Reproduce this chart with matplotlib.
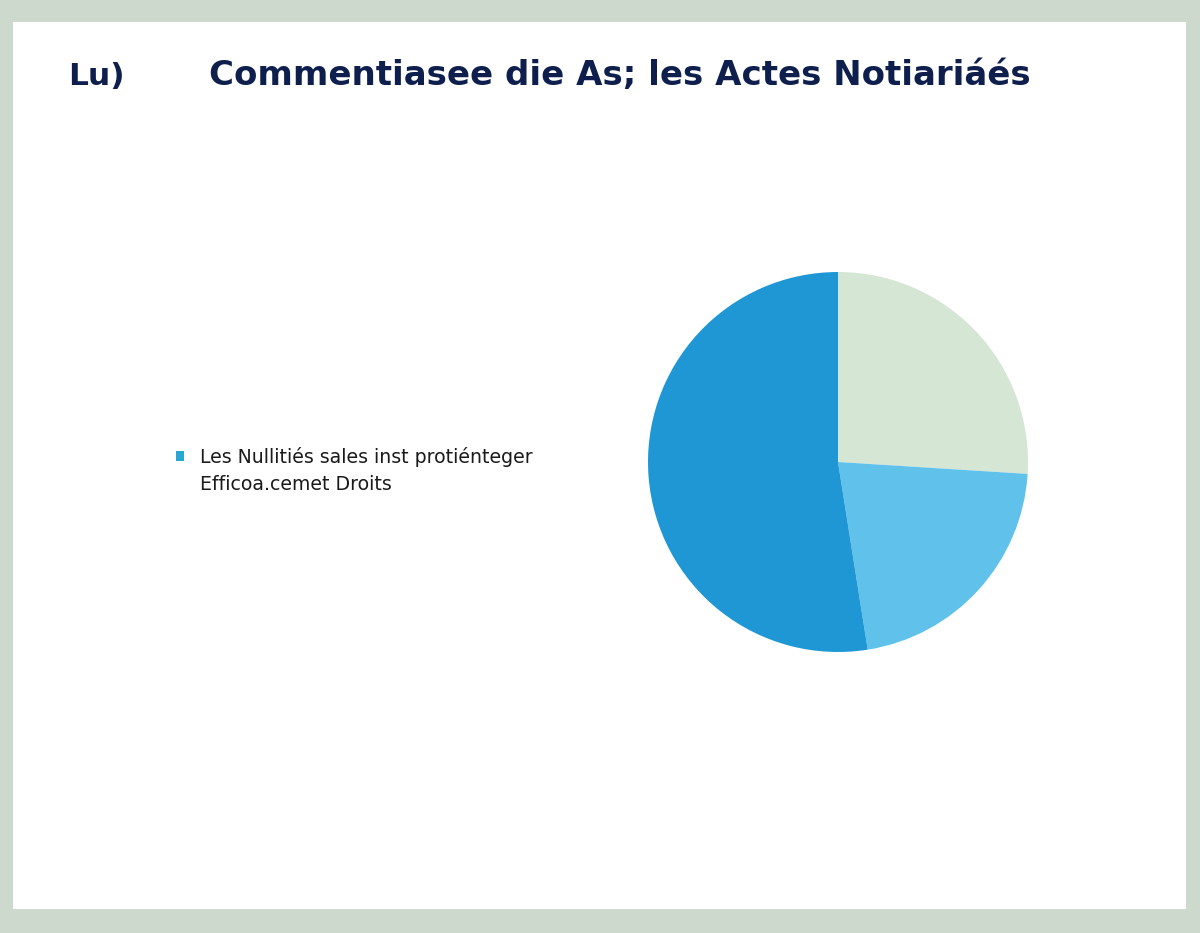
import matplotlib.pyplot as plt
from matplotlib.patches import Rectangle, Patch

# Data
title_prefix = "Lu)"
title_text = "Commentiasee die As; les Actes Notiariáés"
legend_lines = ["Les Nullitiés sales inst protiénteger", "Efficoa.cemet Droits"]
slice_values = [26.0, 21.5, 52.5]
slice_colors = ["#d5e6d5", "#60c1eb", "#1f97d5"]
legend_color = "#2aa6d2"

W, H = 1200, 933
fig = plt.figure(figsize=(W / 100, H / 100), dpi=100)
fig.patch.set_facecolor("#cdd9cc")
fig.add_artist(Rectangle((13 / W, 1 - 909 / H), (1186 - 13) / W, (909 - 22) / H,
                         transform=fig.transFigure, facecolor="white", edgecolor="none", zorder=0))

# Title
fig.text(68 / W, 1 - 85 / H, title_prefix, fontsize=22.5, fontweight="bold",
         family="DejaVu Sans", color="#0e1f4d", va="baseline", ha="left")
fig.text(209 / W, 1 - 85 / H, title_text, fontsize=24.5, fontweight="bold",
         family="DejaVu Sans", color="#0e1f4d", va="baseline", ha="left")

# Pie
cx, cy, r = 838, 462, 190
ax = fig.add_axes([(cx - r) / W, (H - cy - r) / H, 2 * r / W, 2 * r / H])
wedges, _ = ax.pie(slice_values, colors=slice_colors, startangle=90, counterclock=False,
                   radius=1.0, wedgeprops=dict(linewidth=0))
ax.set_xlim(-1, 1)
ax.set_ylim(-1, 1)
ax.set_aspect("equal")
ax.axis("off")

handles = [Patch(facecolor=legend_color, edgecolor="none"),
           Patch(facecolor="none", edgecolor="none")]
fig.legend(handles=handles, labels=legend_lines,
           loc="upper left", bbox_to_anchor=(161 / W, 1 - 432 / H), frameon=False,
           handlelength=0.42, handleheight=0.42, handletextpad=0.85, labelspacing=0.42,
           borderpad=0.3, prop=dict(family="DejaVu Sans", size=13.6), labelcolor="#1a1a1a")

fig.savefig("out.png", dpi=100)
